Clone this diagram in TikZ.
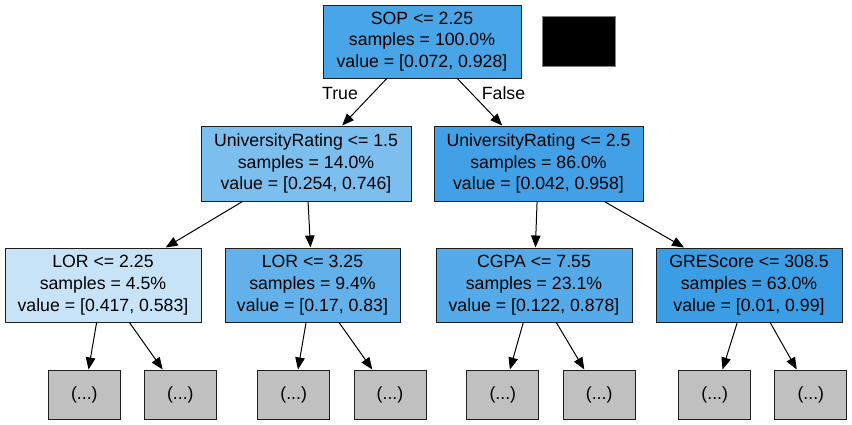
\documentclass[tikz,border=0pt]{standalone}
\usepackage{fontspec}
\setmainfont{Liberation Sans}
\usetikzlibrary{arrows.meta}
\definecolor{cRoot}{RGB}{72,165,231}
\definecolor{cUa}{RGB}{124,190,238}
\definecolor{cUb}{RGB}{66,161,230}
\definecolor{cLa}{RGB}{199,227,248}
\definecolor{cLb}{RGB}{98,177,234}
\definecolor{cCg}{RGB}{85,171,233}
\definecolor{cGr}{RGB}{59,158,229}
\definecolor{cLeaf}{RGB}{192,192,192}
\definecolor{cBorder}{RGB}{30,30,30}
\tikzset{
  treebox/.style={draw=cBorder, line width=1pt, rectangle, inner sep=0pt, align=center,
    font=\fontsize{17.7pt}{21.7pt}\selectfont},
  leafbox/.style={treebox, fill=cLeaf, minimum width=72pt, minimum height=49pt},
  edge/.style={line width=1pt, -{Triangle[length=12pt,width=9.5pt]}},
  edgelabel/.style={font=\fontsize{17.7pt}{21.7pt}\selectfont, inner sep=0pt}
}
\begin{document}
\begin{tikzpicture}[x=1pt,y=-1pt]
\useasboundingbox (0,0) rectangle (852,424);
\node[treebox, fill=cRoot, minimum width=198pt, minimum height=73pt] (root) at (422,41.5)
  {SOP <= 2.25\\samples = 100.0\%\\value = [0.072, 0.928]};
\node[draw=gray, line width=1pt, fill=black, minimum width=73pt, minimum height=50pt, inner sep=0pt] (legend) at (579,41.7) {};
\node[treebox, fill=cUa, minimum width=210pt, minimum height=75pt] (ua) at (306,163.5)
  {UniversityRating <= 1.5\\samples = 14.0\%\\value = [0.254, 0.746]};
\node[treebox, fill=cUb, minimum width=209pt, minimum height=75pt] (ub) at (538.5,163.5)
  {UniversityRating <= 2.5\\samples = 86.0\%\\value = [0.042, 0.958]};
\node[treebox, fill=cLa, minimum width=196pt, minimum height=74pt] (la) at (103,285)
  {LOR <= 2.25\\samples = 4.5\%\\value = [0.417, 0.583]};
\node[treebox, fill=cLb, minimum width=175pt, minimum height=74pt] (lb) at (312.5,285)
  {LOR <= 3.25\\samples = 9.4\%\\value = [0.17, 0.83]};
\node[treebox, fill=cCg, minimum width=196pt, minimum height=74pt] (cg) at (534,285)
  {CGPA <= 7.55\\samples = 23.1\%\\value = [0.122, 0.878]};
\node[treebox, fill=cGr, minimum width=186pt, minimum height=74pt] (gr) at (749,285)
  {GREScore <= 308.5\\samples = 63.0\%\\value = [0.01, 0.99]};
\node[leafbox] (l1) at (84.3,394.5) {(...)};
\node[leafbox] (l2) at (180.3,394.5) {(...)};
\node[leafbox] (l3) at (293.7,394.5) {(...)};
\node[leafbox] (l4) at (390,394.5) {(...)};
\node[leafbox] (l5) at (502.8,394.5) {(...)};
\node[leafbox] (l6) at (599.2,394.5) {(...)};
\node[leafbox] (l7) at (714.7,394.5) {(...)};
\node[leafbox] (l8) at (810.8,394.5) {(...)};
\draw[edge] (root) -- (ua);
\draw[edge] (root) -- (ub);
\draw[edge] (ua) -- (la);
\draw[edge] (ua) -- (lb);
\draw[edge] (ub) -- (cg);
\draw[edge] (ub) -- (gr);
\draw[edge] (la) -- (l1);
\draw[edge] (la) -- (l2);
\draw[edge] (lb) -- (l3);
\draw[edge] (lb) -- (l4);
\draw[edge] (cg) -- (l5);
\draw[edge] (cg) -- (l6);
\draw[edge] (gr) -- (l7);
\draw[edge] (gr) -- (l8);
\node[edgelabel] (tlab) at (340,93) {True};
\node[edgelabel] (flab) at (503.5,93) {False};
\end{tikzpicture}
\end{document}
